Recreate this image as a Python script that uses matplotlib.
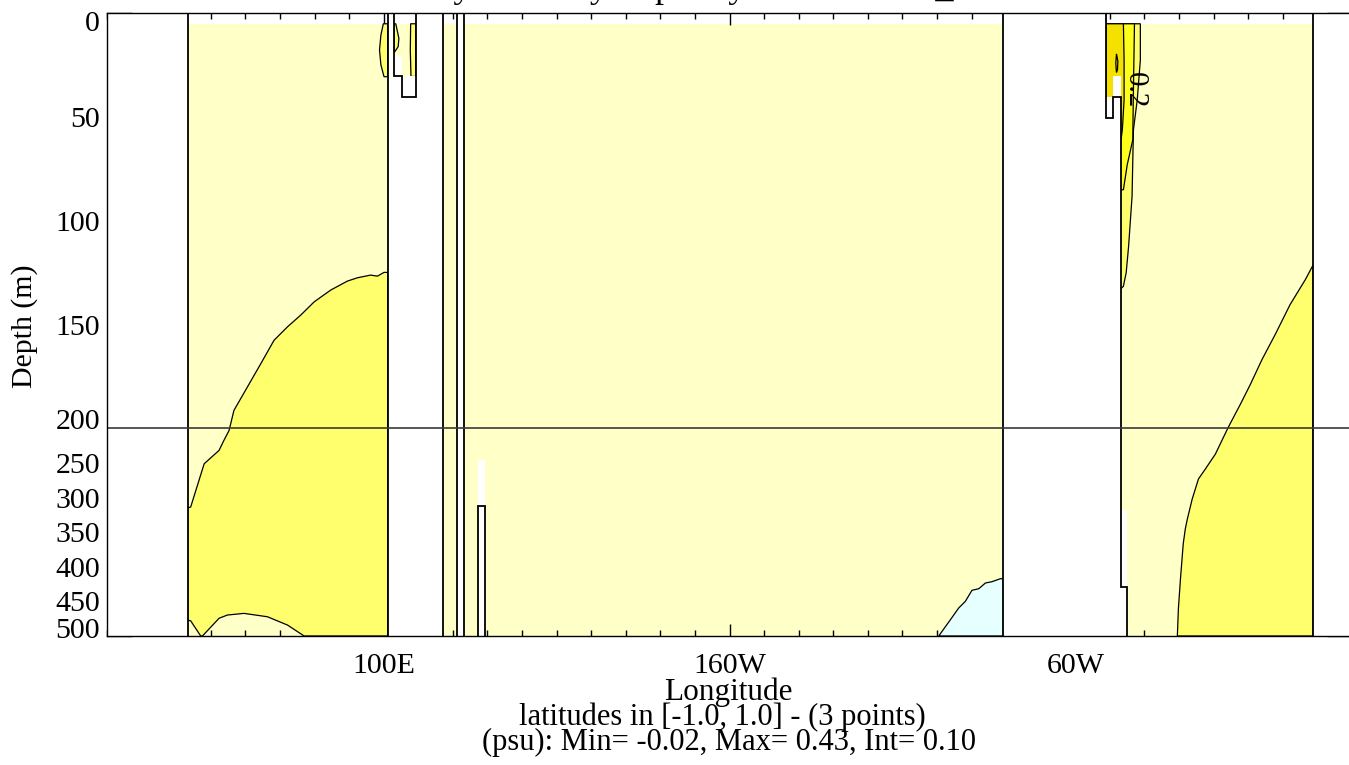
import numpy as np
import matplotlib
matplotlib.use('Agg')
import matplotlib.pyplot as plt
from matplotlib.ticker import FixedLocator, MultipleLocator
from matplotlib.transforms import ScaledTranslation

# ---------------- data (longitude in degrees east, depth in m) ----------------
lon_range = [20, 380]
depth_range = [0, 500]
data_top = 5            # first model level
xtick_pos = [100, 200, 300]
xtick_lab = ['100E', '160W', '60W']
ytick_pos = [0, 50, 100, 150, 200, 250, 300, 350, 400, 450, 500]
ytick_lab = ['0', '50', '100', '150', '200', '250', '300', '350', '400', '450', '500']

# land masks: column edges and depth of the top of land in each column (-10 = full column)
land_africa_w_edges = [20, 43.35];                  land_africa_w_top = [-10]
land_indo_edges = [101.16, 103.0, 105.4, 109.25, 117.05]; land_indo_top = [-10, 30.4, 40.1, -10]
land_phil_edges = [121.1, 123.2];                   land_phil_top = [-10]
land_smt_edges = [127.3, 129.2];                    land_smt_top = [312]
land_amer_edges = [279.2, 308.9, 311.0, 313.2, 314.9]; land_amer_top = [-10, 50.2, 40.1, 428.9]
land_africa_e_edges = [368.8, 380];                 land_africa_e_top = [-10]

# missing-data cells (white, no outline): lon0, lon1, depth0, depth1
gap_lon0 = [127.3, 313.2, 311.0, 308.9, 103.0, 105.4]
gap_lon1 = [129.2, 314.9, 313.2, 311.0, 105.4, 109.25]
gap_d0 = [246, 317.6, 30.1, 40.2, 20.5, 30.4]
gap_d1 = [312, 428.9, 40.1, 50.2, 30.4, 40.1]

# Indian Ocean 0.1 isoline (upper branch, west -> east)
ind_up_lon = [43.35, 44.2, 46.6, 48.1, 52.4, 53.8, 55.3, 56.7, 60.6, 64.5, 68.3, 72.2,
              76.0, 79.9, 84.7, 89.5, 92.4, 96.2, 98.2, 100.1, 101.2]
ind_up_dep = [315, 313.5, 275, 251, 231.7, 217.3, 202.9, 191.3, 180, 168.7, 157.5, 151,
              145.4, 139, 133.3, 129, 127.4, 126.1, 126.6, 124.8, 124.8]
# Indian Ocean 0.1 isoline near the bottom (east -> west)
ind_lo_lon = [101.2, 77.0, 72.2, 66.4, 59.6, 54.8, 52.4, 47.6, 47.1, 44.2, 43.35]
ind_lo_dep = [500, 500, 484.2, 472.2, 467.3, 469.7, 474.4, 500, 500, 478.1, 477]

# Sumatra coastal lens (0.1)
sum_lens_lon = [99.9, 99.2, 98.8, 99.2, 100.1, 101.16, 101.16]
sum_lens_dep = [5, 10.4, 17.6, 24.8, 30.5, 30.5, 5]
# channel east of Sumatra (0.1)
chan_a_lon = [103.0, 103.5, 104.4, 104.2, 103.0]
chan_a_dep = [5, 5, 12, 16, 19]
chan_b_lon = [107.8, 109.25, 109.25, 107.9, 107.7]
chan_b_dep = [5, 5, 30.4, 30.4, 18]

# East Pacific negative region (0.0 isoline)
pac_neg_lon = [260.5, 263.9, 266.3, 268.2, 270.1, 272.1, 274.0, 275.9, 278.3, 279.2, 279.2]
pac_neg_dep = [500, 476.3, 459.4, 449.9, 434, 431.6, 423.4, 421.5, 417.2, 417.2, 500]

# West Atlantic coastal maximum
atl_c1_lon = [308.9, 318.8, 318.8, 317.9, 316.8, 316.4, 315.4, 314.7, 313.9, 313.2, 308.9]
atl_c1_dep = [5, 5, 22.4, 41.7, 56.1, 88.2, 112.3, 125, 131.5, 132.6, 132.6]
atl_c2_lon = [308.9, 317.1, 316.8, 316.6, 315.0, 313.9, 313.2, 308.9]
atl_c2_dep = [5, 5, 36.9, 61, 73, 85, 85, 85]
atl_c3_lon = [308.9, 313.9, 314.1, 314.1, 313.6, 313.2, 308.9]
atl_c3_dep = [5, 5, 22.4, 41.7, 56, 61, 61]
atl_c4_lon = [311.9, 312.3, 312.2, 311.9, 311.7, 311.9]
atl_c4_dep = [19.5, 23, 27, 28.5, 24, 19.5]
atl_lab_lon, atl_lab_dep, atl_lab = 317.1, 37, '0.2'

# East Atlantic 0.1 isoline
atl_e_lon = [368.8, 366.5, 362.1, 357.8, 354.0, 350.6, 347.7, 344.2, 340.5, 337.6, 335.6,
             333.8, 332.4, 331.8, 331.2, 330.4, 329.8, 329.5, 368.8]
atl_e_dep = [121.1, 128.3, 140.3, 154.7, 166.7, 178.8, 188.4, 199.5, 237, 258.6, 273,
             301.9, 330.7, 345.1, 366.8, 417.3, 460.6, 500, 500]

# colours of the contour intervals
c_neg = '#e6ffff'
c_01 = '#ffffc8'
c_12 = '#ffff6e'
c_23 = '#ffff1e'
c_34 = '#f5e100'

# ---------------- figure ----------------
W, H, DPI = 1349, 765, 100
plt.rcParams['font.family'] = ['Liberation Serif', 'DejaVu Serif']
fig = plt.figure(figsize=(W / DPI, H / DPI), dpi=DPI)
L, R, T, B = 107, 1352, 13.4, 636
ax = fig.add_axes([L / W, 1 - B / H, (R - L) / W, (B - T) / H])


def fwd(d):
    d = np.asarray(d, float)
    return np.where(d <= 200, d, 200 + (d - 200) / 3.0)


def inv(v):
    v = np.asarray(v, float)
    return np.where(v <= 200, v, 200 + (v - 200) * 3.0)


ax.set_yscale('function', functions=(fwd, inv))
ax.set_xlim(*lon_range)
ax.set_ylim(depth_range[1], depth_range[0])

# base interval (0 - 0.1)
ax.fill_between(lon_range, data_top, 520, color=c_01, lw=0, zorder=1)

EC = dict(edgecolor='black', linewidth=0.9, zorder=2)
ax.fill(ind_up_lon + ind_lo_lon, ind_up_dep + ind_lo_dep, facecolor=c_12, **EC)
ax.fill(sum_lens_lon, sum_lens_dep, facecolor=c_12, **EC)
ax.fill(chan_a_lon, chan_a_dep, facecolor=c_12, **EC)
ax.fill(chan_b_lon, chan_b_dep, facecolor=c_12, **EC)
ax.fill(pac_neg_lon, pac_neg_dep, facecolor=c_neg, **EC)
ax.fill(atl_c1_lon, atl_c1_dep, facecolor=c_12, **EC)
ax.fill(atl_c2_lon, atl_c2_dep, facecolor=c_23, **EC)
ax.fill(atl_c3_lon, atl_c3_dep, facecolor=c_34, **EC)
ax.fill(atl_c4_lon, atl_c4_dep, facecolor=c_34, **EC)
ax.fill(atl_e_lon, atl_e_dep, facecolor=c_12, **EC)

# missing data
for a, b, d0, d1 in zip(gap_lon0, gap_lon1, gap_d0, gap_d1):
    ax.fill_between([a, b], d0, d1, color='white', lw=0, zorder=3)


def land(edges, tops, bottom=600):
    xs, ys = [edges[0]], [bottom]
    for i, t in enumerate(tops):
        xs += [edges[i], edges[i + 1]]
        ys += [t, t]
    xs.append(edges[-1]); ys.append(bottom)
    ax.fill(xs, ys, facecolor='white', edgecolor='black', linewidth=1.3, zorder=5)


for e, t in [(land_africa_w_edges, land_africa_w_top), (land_indo_edges, land_indo_top),
             (land_phil_edges, land_phil_top), (land_smt_edges, land_smt_top),
             (land_amer_edges, land_amer_top), (land_africa_e_edges, land_africa_e_top)]:
    land(e, t)

ax.text(atl_lab_lon, atl_lab_dep, atl_lab, rotation=-90, ha='center', va='center',
        fontsize=21, zorder=4)

# separation of the two depth ranges
ax.axhline(200, color='#3a3a3a', lw=1.2, zorder=6)

# ---------------- axes / ticks ----------------
FS = 21.5
ax.xaxis.set_major_locator(FixedLocator(xtick_pos))
ax.set_xticklabels(xtick_lab)
ax.xaxis.set_minor_locator(MultipleLocator(10))
ax.yaxis.set_major_locator(FixedLocator(ytick_pos))
ax.set_yticklabels(ytick_lab)
ax.yaxis.set_minor_locator(MultipleLocator(10))
ax.tick_params(which='both', direction='in', top=True, right=True, width=1.0,
               labelsize=FS, color='black')
ax.tick_params(axis='x', which='major', length=8.6, pad=12.5)
ax.tick_params(axis='x', which='minor', length=4.3)
ax.tick_params(axis='y', which='major', length=18, pad=5.0)
ax.tick_params(axis='y', which='minor', length=8.6)
for s in ax.spines.values():
    s.set_linewidth(1.0)
    s.set_zorder(7)

# end labels of each depth section are pulled inside the section
yticks = ax.yaxis.get_major_ticks()
for idx, dy in [(0, -8), (4, 9), (10, 8)]:
    lab = yticks[idx].label1
    lab.set_transform(lab.get_transform() + ScaledTranslation(0, dy / DPI, fig.dpi_scale_trans))

fig.text(25 / W, 1 - 326 / H, 'Depth (m)', rotation=90, ha='center', va='center', fontsize=FS)

fig.text(728.6 / W, 1 - 692 / H, 'Longitude', ha='center', va='center', fontsize=22.5)
fig.text(722 / W, 1 - 717 / H, 'latitudes in [-1.0, 1.0] - (3 points)', ha='center',
         va='center', fontsize=22)
fig.text(728.6 / W, 1 - 742 / H, '(psu): Min= -0.02, Max= 0.43, Int= 0.10', ha='center',
         va='center', fontsize=22)
fig.text(748 / W, 1 + 3 / H, 'salinity - salinity dSp 3 / year 1 : 00001_00010 mean',
         ha='center', va='baseline', fontsize=26)

fig.savefig('out.png', dpi=DPI)
